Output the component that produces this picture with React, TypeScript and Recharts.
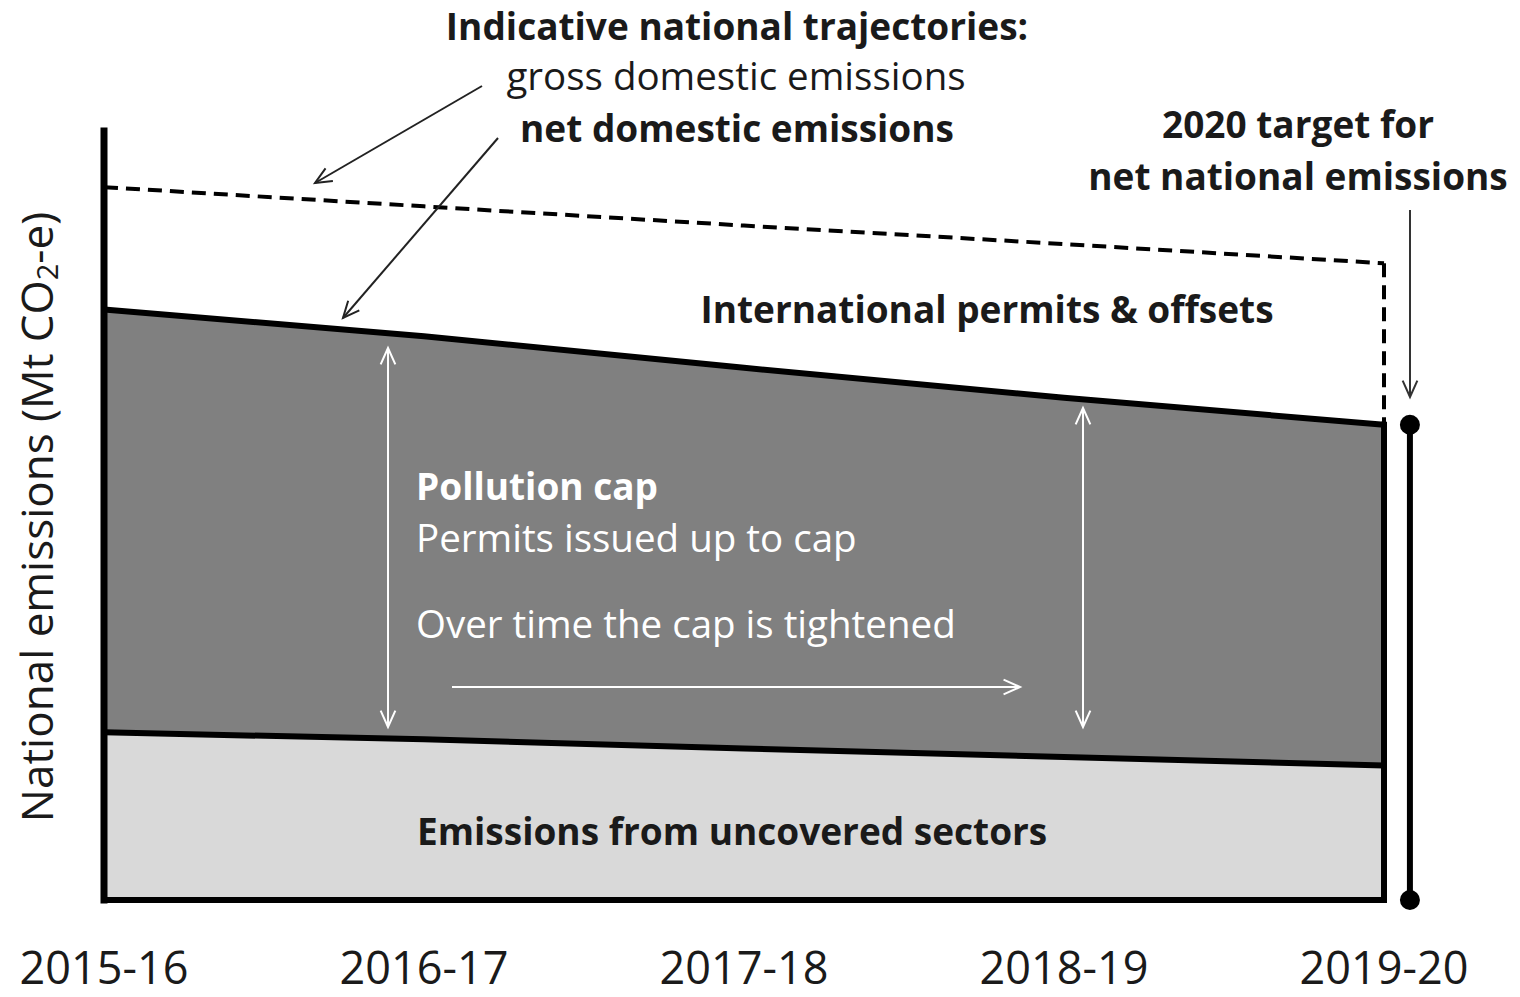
import React from 'react';
import { ComposedChart, Area, Line, XAxis, YAxis, ReferenceLine, ReferenceDot } from 'recharts';

// Financial years on the x axis
const years = ['2015-16', '2016-17', '2017-18', '2018-19', '2019-20'];
// Indicative trajectories, index units (no scale shown in the original)
const grossDomestic = [92.7, 90.2, 87.7, 85.3, 82.8];
const netDomestic = [76.8, 73.3, 69.2, 65.3, 61.8];
const uncovered = [21.8, 20.9, 19.7, 18.6, 17.5];

const data = years.map((year, i) => ({
    i,
    year,
    uncovered: uncovered[i],
    cap: +(netDomestic[i] - uncovered[i]).toFixed(2),
    net: netDomestic[i],
    gross: grossDomestic[i],
}));

const last = years.length - 1;
const targetX = last + 0.081;
const FONT = '"Open Sans", Lato, sans-serif';

const XTick = (props: any) => (
    <text x={props.x} y={984} textAnchor="middle" fontFamily={FONT} fontSize={45} fill="#1a1a1a">
        {years[props.payload.value]}
    </text>
);

const Arrow = ({ x1, y1, x2, y2, color, width = 2, head = 18, both = false }: any) => {
    const ang = Math.atan2(y2 - y1, x2 - x1);
    const spread = 0.42;
    const hd = (x: number, y: number, a: number) => {
        const p1 = [x - head * Math.cos(a - spread), y - head * Math.sin(a - spread)];
        const p2 = [x - head * Math.cos(a + spread), y - head * Math.sin(a + spread)];
        return `${p1[0]},${p1[1]} ${x},${y} ${p2[0]},${p2[1]}`;
    };
    return (
        <g stroke={color} strokeWidth={width} fill="none">
            <line x1={x1} y1={y1} x2={x2} y2={y2} />
            <polyline points={hd(x2, y2, ang)} />
            {both && <polyline points={hd(x1, y1, ang + Math.PI)} />}
        </g>
    );
};

export default function App() {
    return (
        <div style={{ position: 'absolute', left: 0, top: 0, width: 1520, height: 997, background: '#fff' }}>
            <ComposedChart
                width={1520}
                height={997}
                data={data}
                margin={{ top: 131, right: 136, bottom: 0, left: 104 }}
            >
                <XAxis
                    dataKey="i"
                    type="number"
                    domain={[0, last]}
                    ticks={[0, 1, 2, 3, 4]}
                    height={97}
                    tickLine={false}
                    axisLine={{ stroke: '#000', strokeWidth: 6, strokeLinecap: 'square' }}
                    tick={<XTick />}
                    interval={0}
                />
                <YAxis type="number" domain={[0, 100]} width={0} tick={false} tickLine={false} axisLine={false} />
                <Area dataKey="uncovered" stackId="a" type="linear" fill="#d9d9d9" fillOpacity={1} stroke="none" isAnimationActive={false} />
                <Area dataKey="cap" stackId="a" type="linear" fill="#808080" fillOpacity={1} stroke="none" isAnimationActive={false} />
                <Line dataKey="uncovered" type="linear" stroke="#000" strokeWidth={6} dot={false} isAnimationActive={false} />
                <Line dataKey="net" type="linear" stroke="#000" strokeWidth={6} dot={false} isAnimationActive={false} />
                <Line dataKey="gross" type="linear" stroke="#000" strokeWidth={4} strokeDasharray="14 8" dot={false} isAnimationActive={false} />
                {/* left axis edge */}
                <ReferenceLine
                    segment={[{ x: 0, y: 0 }, { x: 0, y: 100 }]}
                    stroke="#000"
                    strokeWidth={7}
                    strokeLinecap="square"
                />
                <ReferenceLine
                    segment={[{ x: last, y: grossDomestic[last] }, { x: last, y: netDomestic[last] }]}
                    stroke="#000"
                    strokeWidth={4}
                    strokeDasharray="14 8"
                />
                <ReferenceLine
                    segment={[{ x: last, y: 0 }, { x: last, y: netDomestic[last] }]}
                    stroke="#000"
                    strokeWidth={6}
                    strokeLinecap="square"
                />
                <ReferenceLine
                    segment={[{ x: targetX, y: 0 }, { x: targetX, y: netDomestic[last] }]}
                    stroke="#000"
                    strokeWidth={6}
                    ifOverflow="visible"
                />
                <ReferenceDot x={targetX} y={netDomestic[last]} r={10} fill="#000" stroke="none" ifOverflow="visible" />
                <ReferenceDot x={targetX} y={0} r={10} fill="#000" stroke="none" ifOverflow="visible" />
            </ComposedChart>

            <svg width={1520} height={997} style={{ position: 'absolute', left: 0, top: 0, pointerEvents: 'none' }}>
                <g fontFamily={FONT} fill="#1a1a1a">
                    <text x={737} y={40} textAnchor="middle" fontSize={37} fontWeight={700}>Indicative national trajectories:</text>
                    <text x={736} y={90} textAnchor="middle" fontSize={38.5}>gross domestic emissions</text>
                    <text x={737} y={142} textAnchor="middle" fontSize={37} fontWeight={700}>net domestic emissions</text>
                    <text x={1298} y={138} textAnchor="middle" fontSize={37} fontWeight={700}>2020 target for</text>
                    <text x={1298} y={190} textAnchor="middle" fontSize={37} fontWeight={700}>net national emissions</text>
                    <text x={987} y={323} textAnchor="middle" fontSize={37} fontWeight={700}>International permits &amp; offsets</text>
                    <text x={417} y={845} fontSize={37} fontWeight={700}>Emissions from uncovered sectors</text>
                    <text
                        x={36}
                        y={517}
                        transform="rotate(-90 36 517)"
                        textAnchor="middle"
                        dominantBaseline="central"
                        fontSize={44}
                    >
                        National emissions (Mt CO<tspan fontSize={29} dy={10}>2</tspan><tspan dy={-10}>-e)</tspan>
                    </text>
                </g>
                <g fontFamily={FONT} fill="#fff">
                    <text x={416} y={500} fontSize={37} fontWeight={700}>Pollution cap</text>
                    <text x={416} y={552} fontSize={38.5}>Permits issued up to cap</text>
                    <text x={416} y={638} fontSize={38.5}>Over time the cap is tightened</text>
                </g>
                <Arrow x1={482} y1={86} x2={315} y2={183} color="#222" />
                <Arrow x1={498} y1={138} x2={343} y2={318} color="#222" />
                <Arrow x1={1410} y1={210} x2={1410} y2={397} color="#333" />
                <Arrow x1={388} y1={348} x2={388} y2={727} color="#fff" both />
                <Arrow x1={1083} y1={408} x2={1083} y2={727} color="#fff" both />
                <Arrow x1={452} y1={687} x2={1020} y2={687} color="#fff" />
            </svg>
        </div>
    );
}
